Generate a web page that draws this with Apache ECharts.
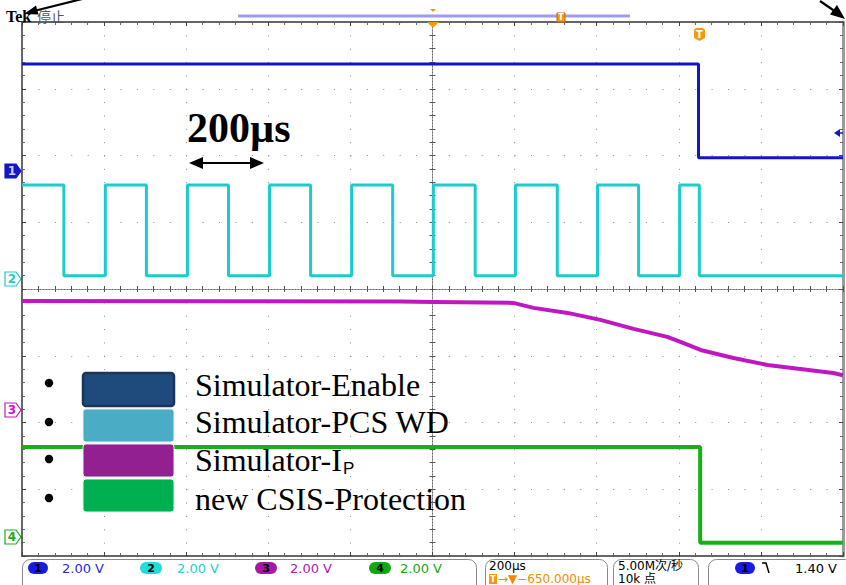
<!DOCTYPE html>
<html>
<head>
<meta charset="utf-8">
<script src="https://cdn.jsdelivr.net/npm/echarts@6/dist/echarts.min.js"></script>
<style>
html,body{margin:0;padding:0;background:#fff;}
#chart{width:846px;height:585px;}
</style>
</head>
<body>
<div id="chart"></div>
<script>
// ---- Data (time in µs relative to screen centre, values in volts) ----
const timeTicks = [-1000, -800, -600, -400, -200, 0, 200, 400, 600, 800, 1000];
const channelNames = ['Simulator-Enable', 'Simulator-PCS WD', 'Simulator-I', 'new CSIS-Protection'];
const channelScales = ['2.00 V', '2.00 V', '2.00 V', '2.00 V'];
const ch1Points = [[-1000, 3.2], [648, 3.2], [648, 0.39], [1000, 0.39]];
const ch2Edges = [-1000, -898, -797, -697, -597, -497, -397, -297, -197, -97, 2, 104, 202, 304, 402, 502, 602, 650, 1000];
const ch2Levels = [2.8, 0.08, 2.8, 0.08, 2.8, 0.08, 2.8, 0.08, 2.8, 0.08, 2.8, 0.08, 2.8, 0.08, 2.8, 0.08, 2.8, 0.08, 0.08];
const ch3Points = [[-1000, 3.27], [-500, 3.26], [-78, 3.25], [2, 3.24], [197, 3.21], [246, 3.06], [329, 2.91], [409, 2.70], [490, 2.43], [572, 2.19], [604, 2.04], [653, 1.80], [733, 1.56], [816, 1.35], [896, 1.23], [976, 1.11], [1000, 1.04]];
const ch4Points = [[-1000, 2.68], [652, 2.68], [652, -0.19], [1000, -0.19]];
const timebaseText = '200µs';
const triggerText = '→▼−650.000µs';
const sampleText = ['5.00M次/秒', '10k 点'];
const triggerLevelText = '1.40 V';

// ---- Configuration ----
const voltsPerDiv = 2;
const offsets = [1.77, 0.157, -1.813, -3.708]; // ground marker positions in divisions
const colors = ['#1414c8', '#1ccccc', '#c018c0', '#18b018'];
const legendColors = ['#1f4a7c', '#4bacc6', '#932090', '#00b050'];

function toDiv(points, ch) { return points.map(p => [p[0], offsets[ch] + p[1] / voltsPerDiv]); }
const ch2Points = ch2Edges.map((t, i) => [t, ch2Levels[i]]);

const G = {left: 22, top: 22, width: 821, height: 534};
const chart = echarts.init(document.getElementById('chart'), null, {renderer: 'svg'});

function borderAxis(pos, extra) {
  return Object.assign({
    type: 'value', position: pos, min: -1000, max: 1000, interval: 200,
    axisLine: {show: true, onZero: false, lineStyle: {color: '#333', width: 1.5}},
    axisTick: {show: true, inside: true, length: 4, lineStyle: {color: '#444'}},
    minorTick: {show: true, splitNumber: 5, length: 3, lineStyle: {color: '#666'}},
    axisLabel: {show: false}, splitLine: {show: false}
  }, extra || {});
}
function borderYAxis(pos, extra) {
  return Object.assign({
    type: 'value', position: pos, min: -4, max: 4, interval: 1,
    axisLine: {show: true, onZero: false, lineStyle: {color: '#333', width: 1.5}},
    axisTick: {show: true, inside: true, length: 4, lineStyle: {color: '#444'}},
    minorTick: {show: true, splitNumber: 5, length: 3, lineStyle: {color: '#666'}},
    axisLabel: {show: false}, splitLine: {show: false}
  }, extra || {});
}
const centerLine = {show: true, onZero: true, onZeroAxisIndex: 0, lineStyle: {color: '#666', width: 1, type: [1, 2]}};
const centerTick = {show: true, inside: true, length: 3, lineStyle: {color: '#555'}};
const centerMinor = {show: true, splitNumber: 5, length: 3, lineStyle: {color: '#555'}};

function lineSeries(name, data, color, extra) {
  return Object.assign({
    name: name, type: 'line', data: data, showSymbol: false, symbol: 'none',
    lineStyle: {color: color, width: 3}, itemStyle: {color: color},
    xAxisIndex: 0, yAxisIndex: 0, animation: false, silent: true
  }, extra || {});
}

function chMarker(y, ch, label, filled) {
  return {
    type: 'group', z: 50, children: [
      {type: 'polygon', shape: {points: [[5, y - 7], [16, y - 7], [21, y], [16, y + 7], [5, y + 7]]},
       style: {fill: filled ? colors[ch] : '#fff', stroke: colors[ch], lineWidth: 1.2}},
      {type: 'text', x: 12, y: y, style: {text: label, fill: filled ? '#d0d0ff' : colors[ch], font: 'bold 12px DejaVu Sans', align: 'center', verticalAlign: 'middle'}}
    ]
  };
}
function badge(x, w, color, label) {
  return {type: 'group', z: 50, children: [
    {type: 'rect', shape: {x: x, y: 562, width: w, height: 12, r: 6}, style: {fill: color}},
    {type: 'text', x: x + w / 2, y: 568.5, style: {text: label, fill: '#000', font: 'bold 11px DejaVu Sans', align: 'center', verticalAlign: 'middle'}}
  ]};
}
function statusText(x, y, text, color, size) {
  return {type: 'text', x: x, y: y, z: 50, style: {text: text, fill: color, font: (size || 13) + 'px DejaVu Sans, Noto Sans CJK SC', verticalAlign: 'middle'}};
}

const legendRectTops = [373, 409, 444, 479];
const legendBullets = [383, 422, 459, 498];
const legendTextY = [385, 422, 460, 499];
const legendGraphics = [];
channelNames.forEach((n, i) => {
  legendGraphics.push({type: 'circle', z: 60, shape: {cx: 49, cy: legendBullets[i], r: 4.2}, style: {fill: '#000'}});
  legendGraphics.push({type: 'rect', z: 60, shape: {x: 83, y: legendRectTops[i], width: 91, height: 33, r: 3},
    style: {fill: legendColors[i], stroke: i === 0 ? '#1a355a' : '#e8eef4', lineWidth: i === 0 ? 2.5 : 1}});
  legendGraphics.push({type: 'text', z: 60, x: 195, y: legendTextY[i], style: {text: n, fill: '#000', font: '32px Liberation Serif', verticalAlign: 'middle'}});
});

const option = {
  animation: false,
  backgroundColor: '#fff',
  grid: G,
  xAxis: [
    borderAxis('bottom', {splitLine: {show: true, lineStyle: {color: '#8a8a8a', width: 1, type: [1, 12.35]}}}),
    borderAxis('top'),
    {type: 'value', position: 'bottom', min: -1000, max: 1000, interval: 200, axisLine: centerLine, axisTick: centerTick, minorTick: centerMinor, axisLabel: {show: false}, splitLine: {show: false}},
    {type: 'value', position: 'top', min: -1000, max: 1000, interval: 200, axisLine: centerLine, axisTick: centerTick, minorTick: centerMinor, axisLabel: {show: false}, splitLine: {show: false}}
  ],
  yAxis: [
    borderYAxis('left', {splitLine: {show: true, lineStyle: {color: '#8a8a8a', width: 1, type: [1, 15.42]}}}),
    borderYAxis('right', {axisLine: {show: true, onZero: false, lineStyle: {color: '#9a9a9a', width: 3}}}),
    {type: 'value', position: 'left', min: -4, max: 4, interval: 1, axisLine: centerLine, axisTick: centerTick, minorTick: centerMinor, axisLabel: {show: false}, splitLine: {show: false}},
    {type: 'value', position: 'right', min: -4, max: 4, interval: 1, axisLine: centerLine, axisTick: centerTick, minorTick: centerMinor, axisLabel: {show: false}, splitLine: {show: false}}
  ],
  series: [
    lineSeries('CH1', toDiv(ch1Points, 0), colors[0]),
    lineSeries('CH2', toDiv(ch2Points, 1), colors[1], {step: 'end'}),
    lineSeries('CH3', toDiv(ch3Points, 2), colors[2], {lineStyle: {color: colors[2], width: 4}}),
    lineSeries('CH4', toDiv(ch4Points, 3), colors[3], {lineStyle: {color: colors[3], width: 4}})
  ],
  graphic: [
    // header
    {type: 'text', x: 6, y: 16, z: 40, style: {text: 'Tek', fill: '#000', font: 'bold 16px Liberation Serif', verticalAlign: 'middle'}},
    {type: 'text', x: 37, y: 16, z: 40, style: {text: '停止', fill: '#555', font: '14px Noto Sans CJK SC', verticalAlign: 'middle'}},
    {type: 'line', z: 41, shape: {x1: 86, y1: -2, x2: 34, y2: 11}, style: {stroke: '#000', lineWidth: 2.2}},
    {type: 'polygon', z: 41, shape: {points: [[24, 14], [38.5, 14.5], [36, 5.5]]}, style: {fill: '#000'}},
    {type: 'line', z: 41, shape: {x1: 820, y1: 1, x2: 836, y2: 12}, style: {stroke: '#000', lineWidth: 2.2}},
    {type: 'polygon', z: 41, shape: {points: [[845, 19], [830, 14.5], [837, 5]]}, style: {fill: '#000'}},
    {type: 'line', z: 40, shape: {x1: 238, y1: 16, x2: 630, y2: 16}, style: {stroke: '#9c9cf0', lineWidth: 3}},
    {type: 'rect', z: 41, shape: {x: 557, y: 13, width: 8, height: 9}, style: {fill: '#f59a0c', stroke: '#c06a00', lineWidth: 1}},
    {type: 'text', z: 42, x: 561, y: 17.5, style: {text: 'T', fill: '#fff', font: 'bold 8px DejaVu Sans', align: 'center', verticalAlign: 'middle'}},
    {type: 'polygon', z: 41, shape: {points: [[430, 9], [436, 9], [433, 12]]}, style: {fill: '#f59a0c'}},
    {type: 'polygon', z: 41, shape: {points: [[427, 22], [439, 22], [433, 28]]}, style: {fill: '#f59a0c'}},
    // trigger T marker
    {type: 'polygon', z: 41, shape: {points: [[694, 30], [695, 28.5], [697, 28], [702, 28], [704, 28.5], [705, 30], [705, 38], [699.5, 41], [694, 38]]}, style: {fill: '#f59a0c'}},
    {type: 'text', z: 42, x: 699.5, y: 34, style: {text: 'T', fill: '#fff', font: 'bold 10px DejaVu Sans', align: 'center', verticalAlign: 'middle'}},
    // ch1 trigger level arrow
    {type: 'polygon', z: 41, shape: {points: [[834, 133], [840, 129], [840, 137]]}, style: {fill: colors[0]}},
    {type: 'line', z: 41, shape: {x1: 839, y1: 133, x2: 843, y2: 133}, style: {stroke: colors[0], lineWidth: 1.5}},
    // channel markers
    chMarker(171, 0, '1', true),
    chMarker(279, 1, '2', false),
    chMarker(410, 2, '3', false),
    chMarker(537, 3, '4', false),
    // 200µs annotation
    {type: 'text', z: 45, x: 187, y: 128, style: {text: '200µs', fill: '#000', font: 'bold 42px Liberation Serif', verticalAlign: 'middle'}},
    {type: 'line', z: 45, shape: {x1: 196, y1: 163, x2: 256, y2: 163}, style: {stroke: '#000', lineWidth: 2.2}},
    {type: 'polygon', z: 45, shape: {points: [[189, 163], [203, 157], [203, 169]]}, style: {fill: '#000'}},
    {type: 'polygon', z: 45, shape: {points: [[264, 163], [250, 157], [250, 169]]}, style: {fill: '#000'}},
    // legend
    ...legendGraphics,
    {type: 'text', z: 61, x: 343, y: 468, style: {text: 'P', fill: '#000', font: '17px Liberation Sans', verticalAlign: 'middle'}},
    // status bar
    {type: 'rect', z: 50, shape: {x: 22.5, y: 559.5, width: 454, height: 34, r: 8}, style: {fill: 'none', stroke: '#8a8a8a', lineWidth: 1}},
    {type: 'rect', z: 50, shape: {x: 485.5, y: 559.5, width: 122, height: 34, r: 8}, style: {fill: 'none', stroke: '#8a8a8a', lineWidth: 1}},
    {type: 'rect', z: 50, shape: {x: 613.5, y: 559.5, width: 85, height: 34, r: 8}, style: {fill: 'none', stroke: '#8a8a8a', lineWidth: 1}},
    {type: 'rect', z: 50, shape: {x: 708.5, y: 559.5, width: 145, height: 34, r: 8}, style: {fill: 'none', stroke: '#8a8a8a', lineWidth: 1}},
    badge(28, 20, '#1a1ae6', '1'),
    statusText(62, 568, channelScales[0], '#2a2ae0'),
    badge(140, 22, '#22dcdc', '2'),
    statusText(177, 568, channelScales[1], '#22d0d0'),
    badge(255, 22, '#a41aa4', '3'),
    statusText(290, 568, channelScales[2], '#b018b0'),
    badge(369, 22, '#12a812', '4'),
    statusText(400, 568, channelScales[3], '#14a814'),
    statusText(489, 566, timebaseText, '#000', 12),
    {type: 'rect', z: 50, shape: {x: 489, y: 574, width: 8, height: 10}, style: {fill: '#f59a0c'}},
    {type: 'text', z: 51, x: 493, y: 579, style: {text: 'T', fill: '#fff', font: 'bold 8px DejaVu Sans', align: 'center', verticalAlign: 'middle'}},
    statusText(498, 578.5, triggerText, '#f08c00', 12),
    statusText(618, 566, sampleText[0], '#000', 12),
    statusText(618, 578.5, sampleText[1], '#000', 12),
    badge(735, 20, '#1a1ae6', '1'),
    {type: 'polyline', z: 50, shape: {points: [[762, 563], [766, 563], [769, 573]]}, style: {stroke: '#000', lineWidth: 1.5, fill: 'none'}},
    statusText(795, 568, triggerLevelText, '#000')
  ]
};
chart.setOption(option);
</script>
</body>
</html>
